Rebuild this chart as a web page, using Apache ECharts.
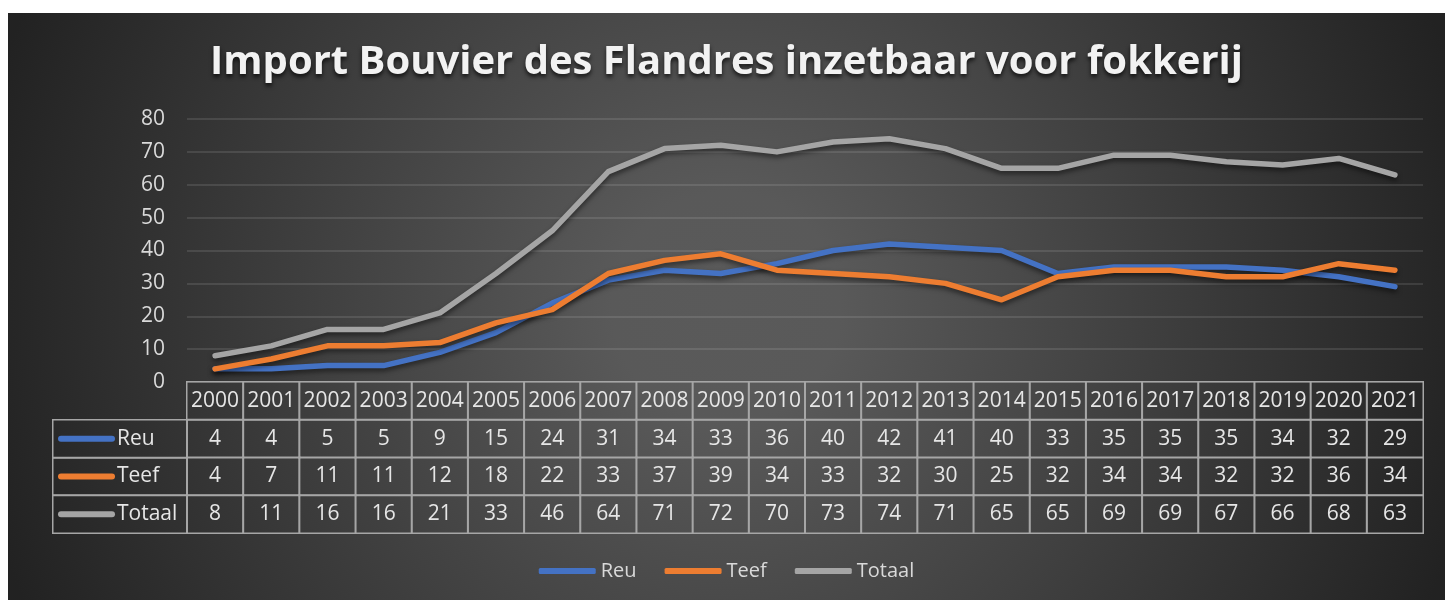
<!DOCTYPE html>
<html lang="nl">
<head>
<meta charset="UTF-8">
<title>Import Bouvier des Flandres</title>
<style>
    * { padding: 0; margin: 0; box-sizing: border-box; }
    html, body { width: 100%; height: 100%; overflow: hidden; background: #fff; }
    #box { position: absolute; left: 8px; top: 13px; width: 1437px; height: 587px; }
</style>
</head>
<body>
<div id="box"></div>
<script src="https://cdn.jsdelivr.net/npm/echarts@6/dist/echarts.min.js"></script>
<script>
    var years = [2000, 2001, 2002, 2003, 2004, 2005, 2006, 2007, 2008, 2009, 2010,
        2011, 2012, 2013, 2014, 2015, 2016, 2017, 2018, 2019, 2020, 2021];
    var reu = [4, 4, 5, 5, 9, 15, 24, 31, 34, 33, 36, 40, 42, 41, 40, 33, 35, 35, 35, 34, 32, 29];
    var teef = [4, 7, 11, 11, 12, 18, 22, 33, 37, 39, 34, 33, 32, 30, 25, 32, 34, 34, 32, 32, 36, 34];
    var totaal = [8, 11, 16, 16, 21, 33, 46, 64, 71, 72, 70, 73, 74, 71, 65, 65, 69, 69, 67, 66, 68, 63];
    var names = ['Reu', 'Teef', 'Totaal'];
    var colors = ['#4472c4', '#ed7d31', '#a5a5a5'];

    var font = '"Open Sans", sans-serif';
    var box = echarts.init(document.getElementById('box'));

    // table cells: header row (years) + one row per series
    var rowsVals = [years, reu, teef, totaal];
    var tableData = [];
    for (var r = 0; r < rowsVals.length; r++) {
        for (var i = 0; i < years.length; i++) {
            tableData.push([i, r, rowsVals[r][i]]);
        }
    }
    var keyData = [];
    var rich = {};
    for (var k = 0; k < names.length; k++) {
        keyData.push({ value: [0, k, k], name: names[k] });
        rich['k' + k] = { width: 57, height: 6, backgroundColor: colors[k], borderRadius: 3 };
    }
    rich.t = { color: '#e6e6e6', fontSize: 21, fontFamily: font, padding: [0, 0, 0, 2] };

    function lineSeries(name, data, color) {
        return {
            name: name,
            type: 'line',
            data: data,
            symbol: 'none',
            lineStyle: {
                width: 5.5, color: color, cap: 'round', join: 'round',
                shadowColor: 'rgba(0,0,0,0.5)', shadowBlur: 5, shadowOffsetY: 3
            },
            itemStyle: { color: color },
            z: 3
        };
    }

    var option = {
        backgroundColor: {
            type: 'radial', x: 0.5, y: 0.5, r: 1.3,
            colorStops: [
                { offset: 0, color: '#5a5a5a' },
                { offset: 0.15, color: '#595959' },
                { offset: 1, color: '#222222' }
            ]
        },
        textStyle: { fontFamily: font },
        title: {
            text: 'Import Bouvier des Flandres inzetbaar voor fokkerij',
            left: 'center',
            top: 25,
            textStyle: {
                color: '#f2f2f2', fontSize: 40, fontWeight: 'bold', fontFamily: font,
                textShadowColor: 'rgba(0,0,0,0.7)', textShadowBlur: 4, textShadowOffsetY: 3
            }
        },
        legend: {
            data: names,
            bottom: 14,
            left: 'center',
            icon: 'roundRect',
            itemWidth: 57,
            itemHeight: 6,
            itemGap: 28,
            textStyle: { color: '#d9d9d9', fontSize: 20, fontFamily: font }
        },
        grid: [
            { left: 179, right: 22, top: 106, height: 263 },
            { left: 179, right: 22, top: 369, height: 151 },
            { left: 45, width: 134, top: 407, height: 113 }
        ],
        xAxis: [
            { type: 'category', gridIndex: 0, data: years, show: false },
            { type: 'category', gridIndex: 1, data: years, show: false },
            { type: 'category', gridIndex: 2, data: ['key'], show: false }
        ],
        yAxis: [
            {
                type: 'value', gridIndex: 0, min: 0, max: 80, interval: 10,
                axisLine: { show: false }, axisTick: { show: false },
                axisLabel: { color: '#d9d9d9', fontSize: 21, margin: 22, fontFamily: font },
                splitLine: { lineStyle: { color: 'rgba(255,255,255,0.14)', width: 1.5 } }
            },
            { type: 'category', gridIndex: 1, data: ['jaar'].concat(names), inverse: true, show: false },
            { type: 'category', gridIndex: 2, data: names, inverse: true, show: false }
        ],
        series: [
            lineSeries('Reu', reu, colors[0]),
            lineSeries('Teef', teef, colors[1]),
            lineSeries('Totaal', totaal, colors[2]),
            {
                name: 'tabel',
                type: 'heatmap',
                xAxisIndex: 1, yAxisIndex: 1,
                data: tableData,
                itemStyle: { color: 'rgba(0,0,0,0)', borderColor: '#a6a6a6', borderWidth: 1.5 },
                label: {
                    show: true, color: '#e6e6e6', fontSize: 21, fontFamily: font,
                    formatter: function (p) { return p.value[2]; }
                },
                emphasis: { disabled: true }
            },
            {
                name: 'sleutel',
                type: 'heatmap',
                xAxisIndex: 2, yAxisIndex: 2,
                data: keyData,
                itemStyle: { color: 'rgba(0,0,0,0)', borderColor: '#a6a6a6', borderWidth: 1.5 },
                label: {
                    show: true, position: 'insideLeft', distance: 6,
                    formatter: function (p) { return '{k' + p.value[2] + '|}{t|' + p.name + '}'; },
                    rich: rich
                },
                emphasis: { disabled: true }
            }
        ]
    };
    box.setOption(option);
</script>
</body>
</html>
